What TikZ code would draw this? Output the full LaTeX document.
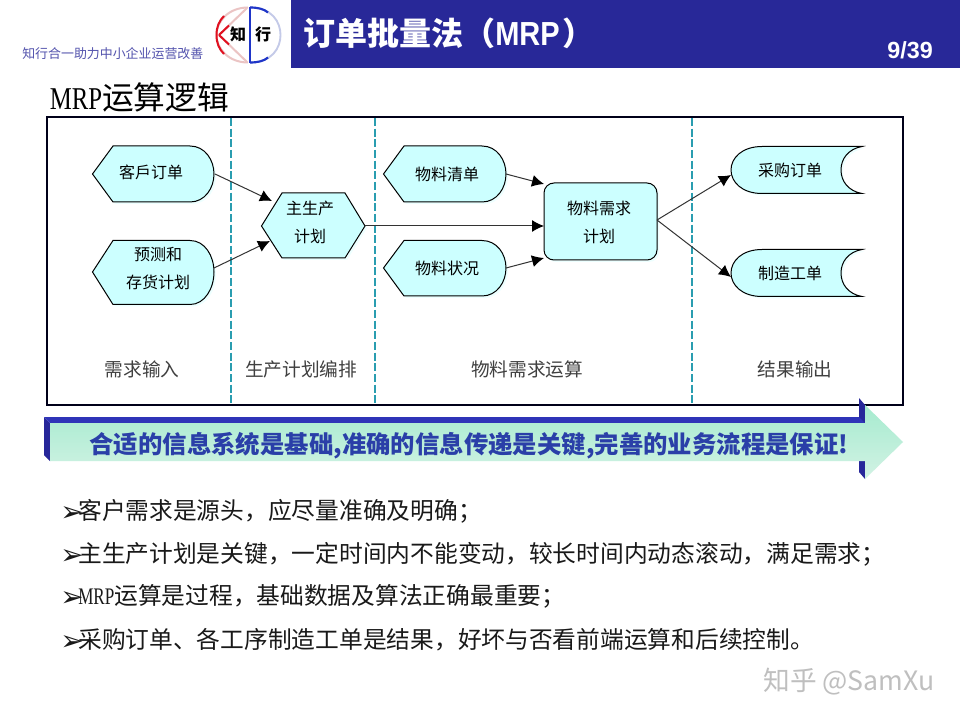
\documentclass[tikz,border=0pt]{standalone}
\usepackage{fontspec}
\setmainfont{Liberation Serif}
\newfontfamily\cjk{Noto Sans CJK SC}
\newfontfamily\serifl{Liberation Serif}
\newfontfamily\dejavu{DejaVu Sans}
\newfontfamily\arialf{Liberation Sans}
\usetikzlibrary{arrows.meta,shadows}
\definecolor{barblue}{HTML}{282898}
\definecolor{nodefill}{HTML}{CCFFFF}
\definecolor{dashteal}{HTML}{2A9DB0}
\definecolor{bannerblue}{HTML}{2F34B8}
\definecolor{bannerdark}{HTML}{27279A}
\definecolor{bantxt}{HTML}{2A3FA8}
\definecolor{bantop}{HTML}{A6EBCF}
\definecolor{banbot}{HTML}{D2F2E4}
\definecolor{logoblue}{HTML}{1F35C8}
\definecolor{logopale}{HTML}{C4CAE8}
\definecolor{logored}{HTML}{E01020}
\definecolor{logopink}{HTML}{EBC4C4}
\tikzset{
  x=0.75pt,y=-0.75pt,
  flowshape/.style={draw=black,line width=0.75pt,fill=nodefill,drop shadow={shadow xshift=1.5pt,shadow yshift=-1.5pt,fill=nodefill,opacity=.35}},
  lbl/.style={font=\cjk\fontsize{12}{14}\selectfont,text=black,inner sep=0pt,align=center},
  phase/.style={font=\cjk\fontsize{14}{16}\selectfont,text=black!75,inner sep=0pt},
  conn/.style={draw=black!80,line width=0.75pt,-{Latex[length=9pt,width=9pt,black]}},
  sep/.style={draw=dashteal,line width=0.85pt,dash pattern=on 6pt off 2pt},
  bullet/.style={font=\cjk\fontsize{17.8}{20}\selectfont,anchor=west,inner sep=0pt,text=black!90},
}
\newcommand{\arrowmark}{\makebox[13.5pt][l]{\smash{\raisebox{-1.5pt}{\dejavu\bfseries\fontsize{21}{21}\selectfont ➢}}}}
\newcommand{\narrowmrp}[1]{\scalebox{#1}[1]{\serifl MRP}}
\begin{document}
\begin{tikzpicture}
\useasboundingbox (0,0) rectangle (960,720);
\fill[white] (0,0) rectangle (960,720);
% header
\fill[barblue] (291,0) rectangle (960,68);
\node[font=\cjk\bfseries\fontsize{24}{26}\selectfont,text=white,anchor=west,inner sep=0pt] (title) at (303,33) {订单批量法（\scalebox{0.87}[1]{\arialf\bfseries\fontsize{25}{26}\selectfont MRP}\hspace{2pt}）};
\node[font=\arialf\bfseries\fontsize{17.5}{18}\selectfont,text=white,anchor=east,inner sep=0pt] (page) at (933,50) {9/39};
\node[font=\cjk\fontsize{9.7}{11}\selectfont,text=barblue!80,anchor=west,inner sep=0pt] (motto) at (22,54) {知行合一助力中小企业运营改善};
% logo
\draw[line width=1.5pt,draw=logopink] (248,7.5) .. controls (228,7.5) and (216.5,22) .. (216.5,35) .. controls (216.5,48) and (228,62.5) .. (248,62.5);
\draw[line width=1.5pt,draw=logored] (216.5,35) .. controls (216.5,27) and (219,21) .. (224,16);
\draw[line width=1.5pt,draw=logored] (216.5,35) .. controls (216.5,43) and (219,49) .. (224,54);
\draw[line width=1.5pt,draw=logopink] (219,35) -- (247,8) (219,35) -- (247,62);
\draw[line width=1.5pt,draw=logored] (219,35) -- (229,25.5) (219,35) -- (229,44.5);
\draw[line width=1.4pt,draw=logopale] (250,7.5) .. controls (272,7.5) and (280.5,22) .. (280.5,35) .. controls (280.5,48) and (272,62.5) .. (250,62.5);
\draw[line width=1.6pt,draw=logoblue] (250,7.5) .. controls (258,7.5) and (264,9) .. (268,12.5);
\draw[line width=1.6pt,draw=logoblue] (250,62.5) .. controls (258,62.5) and (264,61) .. (268,57.5);
\draw[line width=1.8pt,draw=logoblue] (250,7) -- (250,63);
\node[font=\cjk\bfseries\fontsize{12}{13}\selectfont,inner sep=0pt] (zhi) at (238,34) {知};
\node[font=\cjk\bfseries\fontsize{12}{13}\selectfont,inner sep=0pt] (xing) at (263,34) {行};
% heading
\node[font=\cjk\fontsize{23.8}{26}\selectfont,anchor=west,inner sep=0pt] (heading) at (49.5,97) {\narrowmrp{0.78}运算逻辑};
% frame
\draw[draw=black!90!blue,line width=1.2pt] (47,117) rectangle (903,405);
\coordinate (s1t) at (231,118); \coordinate (s1b) at (231,403);
\coordinate (s2t) at (375,118); \coordinate (s2b) at (375,403);
\coordinate (s3t) at (692,118); \coordinate (s3b) at (692,403);
\draw[sep] (s1t) -- (s1b);
\draw[sep] (s2t) -- (s2b);
\draw[sep] (s3t) -- (s3b);
% shapes
\path[flowshape] (92.5,174) -- (113,146) -- (190,146) .. controls (205,146) and (214,160) .. (214,174) .. controls (214,188) and (205,202) .. (190,202) -- (113,202) -- cycle;
\path[flowshape] (92.5,272) -- (113,240.5) -- (190,240.5) .. controls (205,240.5) and (214,256) .. (214,272) .. controls (214,288) and (205,304.5) .. (190,304.5) -- (113,304.5) -- cycle;
\path[flowshape] (261.5,226) -- (282,193) -- (345,193) -- (365,226) -- (345,258) -- (282,258) -- cycle;
\path[flowshape] (383.5,174) -- (404,146) -- (482,146) .. controls (497,146) and (506,160) .. (506,174) .. controls (506,188) and (497,202) .. (482,202) -- (404,202) -- cycle;
\path[flowshape] (383.5,268) -- (404,240.5) -- (482,240.5) .. controls (497,240.5) and (506,254) .. (506,268) .. controls (506,282) and (497,296) .. (482,296) -- (404,296) -- cycle;
\path[flowshape,rounded corners=7.5pt] (544,183) rectangle (657,260);
\path[flowshape] (862,146.5) -- (762,146.5) .. controls (742,146.5) and (731,158) .. (731,170) .. controls (731,182) and (742,193.5) .. (762,193.5) -- (862,193.5) .. controls (848,191) and (841,181) .. (841,170) .. controls (841,159) and (848,149) .. (862,146.5) -- cycle;
\path[flowshape] (862,249.5) -- (762,249.5) .. controls (742,249.5) and (731,261) .. (731,273) .. controls (731,285) and (742,296.5) .. (762,296.5) -- (862,296.5) .. controls (848,294) and (841,284) .. (841,273) .. controls (841,262) and (848,252) .. (862,249.5) -- cycle;
% labels
\node[lbl] (order) at (151,172) {客戶订单};
\node[lbl] (forecast) at (158,268) {预测和\\[7pt]存货计划};
\node[lbl] (mps) at (310,222) {主生产\\[7pt]计划};
\node[lbl] (bom) at (447,174) {物料清单};
\node[lbl] (stock) at (447,268) {物料状况};
\node[lbl] (mrp) at (599,222) {物料需求\\[7pt]计划};
\node[lbl] (po) at (790,170) {采购订单};
\node[lbl] (wo) at (790,273) {制造工单};
% connector ends on the shapes
\coordinate (orderE) at (215,174);
\coordinate (forecastE) at (214,268);
\coordinate (mpsW1) at (272,201);
\coordinate (mpsW2) at (270,241);
\coordinate (mpsE) at (365,226);
\coordinate (mrpW0) at (544,226);
\coordinate (bomE) at (506,174);
\coordinate (mrpW1) at (544,184);
\coordinate (stockE) at (506,268);
\coordinate (mrpW2) at (544,258);
\coordinate (mrpE) at (657,220);
\coordinate (poW) at (731,175);
\coordinate (woW) at (731,277);
\draw[conn] (orderE) -- (mpsW1);
\draw[conn] (forecastE) -- (mpsW2);
\draw[conn] (mpsE) -- (mrpW0);
\draw[conn] (bomE) -- (mrpW1);
\draw[conn] (stockE) -- (mrpW2);
\draw[conn] (mrpE) -- (poW);
\draw[conn] (mrpE) -- (woW);
% phases
\node[phase] (p1) at (142,369) {需求输入};
\node[phase] (p2) at (301,369) {生产计划编排};
\node[phase] (p3) at (527,369) {物料需求运算};
\node[phase] (p4) at (795,369) {结果输出};
% banner
\fill[bannerdark] (44,417) -- (50,423) -- (50,461) -- (44,455) -- cycle;
\fill[bannerblue] (44,417) -- (865,417) -- (865,423) -- (50,423) -- cycle;
\fill[bannerdark] (859,398) -- (865,405) -- (865,423) -- (859,417) -- cycle;
\fill[bannerdark] (859,461) -- (865,461) -- (865,479) -- (859,472) -- cycle;
\shade[top color=bantop,bottom color=banbot] (50,423) -- (865,423) -- (865,405) -- (903,442) -- (865,479) -- (865,461) -- (50,461) -- cycle;
\node[font=\cjk\bfseries\fontsize{18.3}{20}\selectfont,text=bantxt,inner sep=0pt] (slogan) at (469,446) {合适的信息系统是基础,准确的信息传递是关键,完善的业务流程是保证!};
% bullets
\node[bullet] (b1) at (60,511) {\arrowmark 客户需求是源头，应尽量准确及明确；};
\node[bullet] (b2) at (60,554) {\arrowmark 主生产计划是关键，一定时间内不能变动，较长时间内动态滚动，满足需求；};
\node[bullet] (b3) at (60,596) {\arrowmark\narrowmrp{0.72}运算是过程，基础数据及算法正确最重要；};
\node[bullet] (b4) at (60,640) {\arrowmark 采购订单、各工序制造工单是结果，好坏与否看前端运算和后续控制。};
% watermark
\node[font=\cjk\fontsize{20}{24}\selectfont,text=black!25,anchor=east,inner sep=0pt] (mark) at (935,682) {知乎 @SamXu};
\end{tikzpicture}
\end{document}
